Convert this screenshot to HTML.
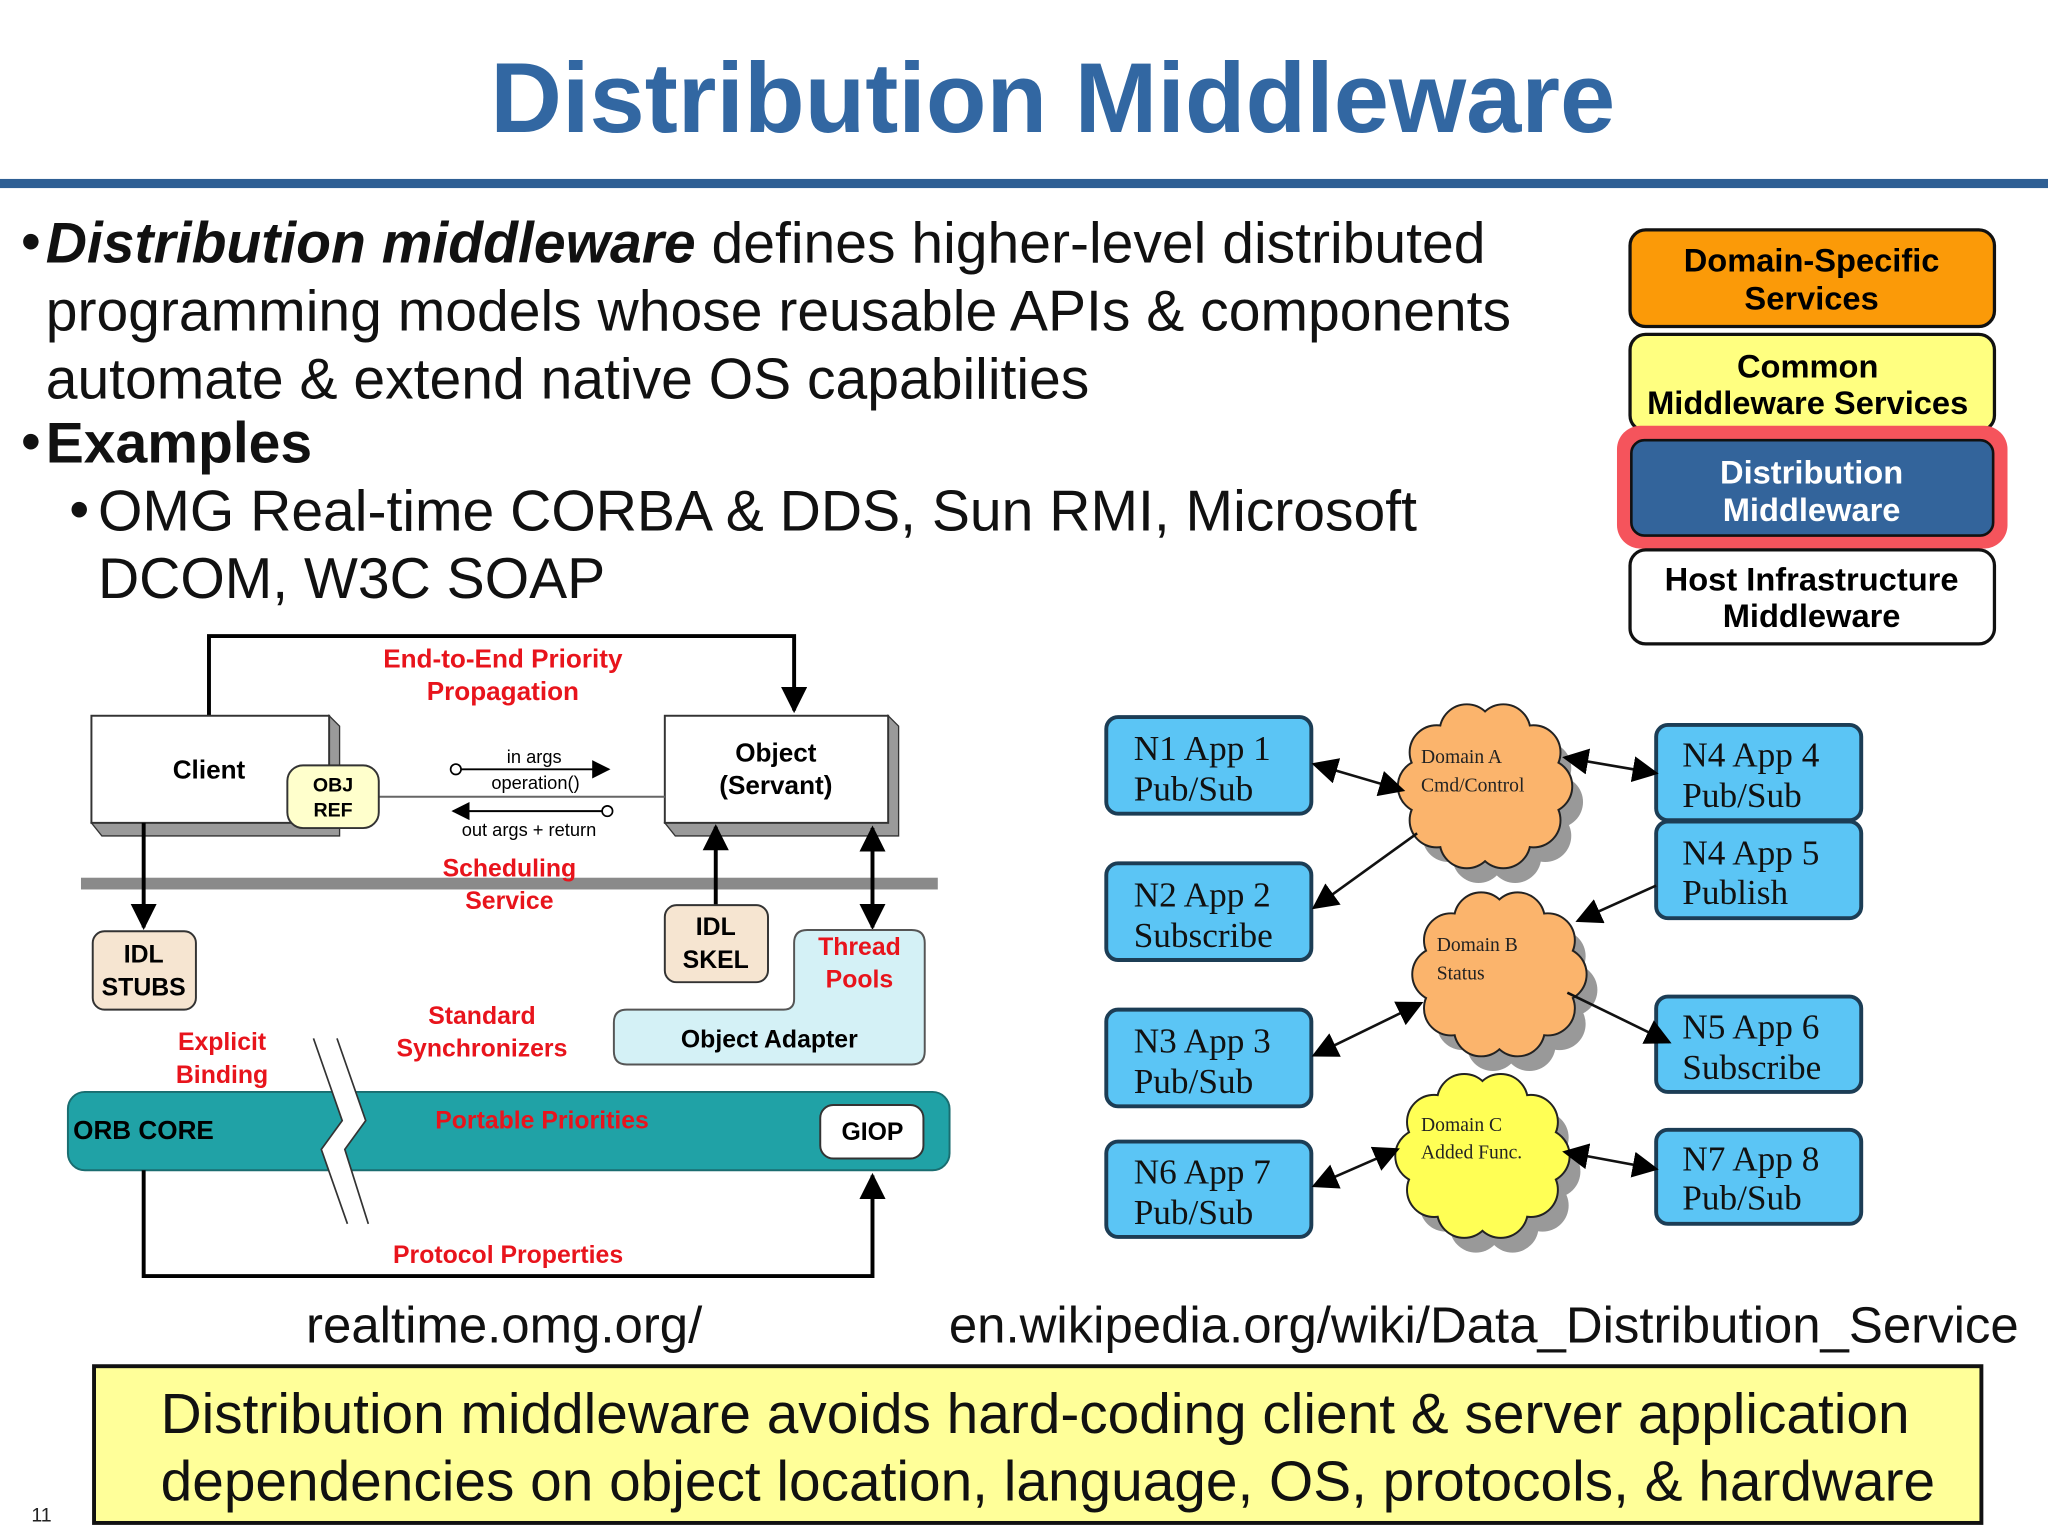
<!DOCTYPE html>
<html><head><meta charset="utf-8"><style>
html,body{margin:0;padding:0;background:#fff;}
svg{display:block;}
.s{font-family:"Liberation Sans",sans-serif;}
.r{font-family:"Liberation Serif",serif;}
</style></head><body>
<svg width="2048" height="1536" viewBox="0 0 1568 1176" xmlns="http://www.w3.org/2000/svg">
<defs>
<marker id="ah" viewBox="0 0 10 10" refX="9" refY="5" markerWidth="14" markerHeight="14" markerUnits="userSpaceOnUse" orient="auto-start-reverse"><path d="M0,0 L10,5 L0,10 z" fill="#000"/></marker>
<marker id="ab" viewBox="0 0 10 10" refX="9" refY="5" markerWidth="20" markerHeight="20" markerUnits="userSpaceOnUse" orient="auto-start-reverse"><path d="M0,0 L10,5 L0,10 z" fill="#000"/></marker>
<g id="cl">
<circle cx="46" cy="0" r="20"/><circle cx="37" cy="26" r="20"/><circle cx="14" cy="42" r="20"/><circle cx="-14" cy="42" r="20"/><circle cx="-37" cy="26" r="20"/><circle cx="-46" cy="0" r="20"/><circle cx="-37" cy="-26" r="20"/><circle cx="-14" cy="-42" r="20"/><circle cx="14" cy="-42" r="20"/><circle cx="37" cy="-26" r="20"/>
</g>
</defs>
<rect width="1568" height="1176" fill="#fff"/>
<text x="806" y="101" text-anchor="middle" class="s" font-size="76" font-weight="bold" fill="#3267a2">Distribution Middleware</text>
<rect x="0" y="137" width="1568" height="7" fill="#2e5f94"/>
<g class="s" font-size="43.7" fill="#111">
<text x="16" y="200">•</text>
<text x="35" y="201"><tspan font-weight="bold" font-style="italic">Distribution middleware</tspan> defines higher-level distributed</text>
<text x="35" y="253">programming models whose reusable APIs &amp; components</text>
<text x="35" y="305">automate &amp; extend native OS capabilities</text>
<text x="16" y="353">•</text>
<text x="35" y="354" font-weight="bold">Examples</text>
<text x="53" y="405">•</text>
<text x="75" y="406">OMG Real-time CORBA &amp; DDS, Sun RMI, Microsoft</text>
<text x="75" y="458">DCOM, W3C SOAP</text>
</g>
<g class="s" font-size="25" font-weight="bold" text-anchor="middle">
<rect x="1248" y="176" width="279" height="74" rx="12" fill="#fb9a08" stroke="#111" stroke-width="2.5"/>
<text x="1387" y="208">Domain-Specific</text><text x="1387" y="237">Services</text>
<rect x="1248" y="256" width="279" height="74" rx="12" fill="#ffff80" stroke="#111" stroke-width="2.5"/>
<text x="1384" y="289">Common</text><text x="1384" y="317">Middleware Services</text>
<rect x="1238" y="326" width="299" height="94" rx="18" fill="#f5545c"/>
<rect x="1249" y="337" width="277" height="73" rx="10" fill="#33649b" stroke="#111" stroke-width="2"/>
<text x="1387" y="370" fill="#fff">Distribution</text><text x="1387" y="399" fill="#fff">Middleware</text>
<rect x="1248" y="421" width="279" height="72" rx="12" fill="#fff" stroke="#111" stroke-width="2.5"/>
<text x="1387" y="452">Host Infrastructure</text><text x="1387" y="480">Middleware</text>
</g>
<polyline points="160,548 160,487 608,487 608,544" fill="none" stroke="#000" stroke-width="3" marker-end="url(#ab)"/>
<g class="s" font-weight="bold" fill="#e8141c" font-size="20" text-anchor="middle">
<text x="385" y="511">End-to-End Priority</text><text x="385" y="536">Propagation</text>
</g>
<polygon points="252,548 260,556 260,640 78,640 70,630 252,630" fill="#9a9a9a" stroke="#333" stroke-width="1"/>
<rect x="70" y="548" width="182" height="82" fill="#fff" stroke="#333" stroke-width="1.5"/>
<text x="160" y="596" class="s" font-size="20" font-weight="bold" text-anchor="middle">Client</text>
<polygon points="680,548 688,556 688,640 517,640 509,630 680,630" fill="#9a9a9a" stroke="#333" stroke-width="1"/>
<rect x="509" y="548" width="171" height="82" fill="#fff" stroke="#333" stroke-width="1.5"/>
<text x="594" y="583" class="s" font-size="20" font-weight="bold" text-anchor="middle">Object</text>
<text x="594" y="608" class="s" font-size="20" font-weight="bold" text-anchor="middle">(Servant)</text>
<line x1="290" y1="610" x2="509" y2="610" stroke="#666" stroke-width="1.5"/>
<rect x="220" y="586" width="70" height="48" rx="12" fill="#ffffcc" stroke="#333" stroke-width="1.5"/>
<text x="255" y="606" class="s" font-size="15" font-weight="bold" text-anchor="middle">OBJ</text>
<text x="255" y="625" class="s" font-size="15" font-weight="bold" text-anchor="middle">REF</text>
<circle cx="349" cy="589" r="4" fill="#fff" stroke="#000" stroke-width="1.3"/>
<line x1="353" y1="589" x2="466" y2="589" stroke="#000" stroke-width="1.5" marker-end="url(#ah)"/>
<circle cx="465" cy="621" r="4" fill="#fff" stroke="#000" stroke-width="1.3"/>
<line x1="461" y1="621" x2="347" y2="621" stroke="#000" stroke-width="1.5" marker-end="url(#ah)"/>
<g class="s" font-size="14" text-anchor="middle">
<text x="409" y="584">in args</text><text x="410" y="604">operation()</text><text x="405" y="640">out args + return</text>
</g>
<rect x="62" y="672" width="656" height="9" fill="#8a8a8a"/>
<g class="s" font-weight="bold" fill="#e8141c" font-size="19" text-anchor="middle">
<text x="390" y="671">Scheduling</text><text x="390" y="696">Service</text>
<text x="170" y="804">Explicit</text><text x="170" y="829">Binding</text>
<text x="369" y="784">Standard</text><text x="369" y="809">Synchronizers</text>
</g>
<line x1="110" y1="630" x2="110" y2="710" stroke="#000" stroke-width="3" marker-end="url(#ab)"/>
<rect x="71" y="713" width="79" height="60" rx="9" fill="#f6e5d1" stroke="#333" stroke-width="1.5"/>
<text x="110" y="737" class="s" font-size="19" font-weight="bold" text-anchor="middle">IDL</text>
<text x="110" y="762" class="s" font-size="19" font-weight="bold" text-anchor="middle">STUBS</text>
<line x1="548" y1="693" x2="548" y2="633" stroke="#000" stroke-width="3" marker-end="url(#ab)"/>
<rect x="509" y="693" width="79" height="59" rx="9" fill="#f6e5d1" stroke="#333" stroke-width="1.5"/>
<text x="548" y="716" class="s" font-size="19" font-weight="bold" text-anchor="middle">IDL</text>
<text x="548" y="741" class="s" font-size="19" font-weight="bold" text-anchor="middle">SKEL</text>
<line x1="668" y1="650" x2="668" y2="634" stroke="#000" stroke-width="3" marker-end="url(#ab)"/>
<line x1="668" y1="640" x2="668" y2="710" stroke="#000" stroke-width="3" marker-end="url(#ab)"/>
<path d="M618,712 H698 Q708,712 708,722 V805 Q708,815 698,815 H480 Q470,815 470,805 V783 Q470,773 480,773 H600 Q608,773 608,765 V722 Q608,712 618,712 Z" fill="#d4f1f6" stroke="#555" stroke-width="1.5"/>
<text x="658" y="731" class="s" font-size="19" font-weight="bold" fill="#e8141c" text-anchor="middle">Thread</text>
<text x="658" y="756" class="s" font-size="19" font-weight="bold" fill="#e8141c" text-anchor="middle">Pools</text>
<text x="589" y="802" class="s" font-size="19" font-weight="bold" text-anchor="middle">Object Adapter</text>
<rect x="52" y="836" width="675" height="60" rx="13" fill="#20a2a6" stroke="#1a6d70" stroke-width="1.5"/>
<text x="56" y="872" class="s" font-size="20" font-weight="bold">ORB CORE</text>
<text x="415" y="864" class="s" font-size="19" font-weight="bold" fill="#e8141c" text-anchor="middle">Portable Priorities</text>
<rect x="628" y="846" width="79" height="41" rx="10" fill="#fff" stroke="#333" stroke-width="1.5"/>
<text x="668" y="873" class="s" font-size="19" font-weight="bold" text-anchor="middle">GIOP</text>
<polygon points="240,795 258,795 280,858 264,880 282,937 266,937 246,880 262,858" fill="#fff"/>
<polyline points="240,795 262,858 246,880 266,937" fill="none" stroke="#333" stroke-width="1.3"/>
<polyline points="258,795 280,858 264,880 282,937" fill="none" stroke="#333" stroke-width="1.3"/>
<polyline points="110,896 110,977 668,977 668,900" fill="none" stroke="#000" stroke-width="3" marker-end="url(#ab)"/>
<text x="389" y="967" class="s" font-size="19" font-weight="bold" fill="#e8141c" text-anchor="middle">Protocol Properties</text>
<g fill="#5bc5f5" stroke="#1c3d55" stroke-width="3">
<rect x="847" y="549" width="157" height="74" rx="9"/>
<rect x="847" y="661" width="157" height="74" rx="9"/>
<rect x="847" y="773" width="157" height="74" rx="9"/>
<rect x="847" y="874" width="157" height="73" rx="9"/>
<rect x="1268" y="555" width="157" height="73" rx="9"/>
<rect x="1268" y="629" width="157" height="74" rx="9"/>
<rect x="1268" y="763" width="157" height="73" rx="9"/>
<rect x="1268" y="865" width="157" height="72" rx="9"/>
</g>
<g class="r" font-size="27" fill="#111">
<text x="868" y="582">N1 App 1</text><text x="868" y="613">Pub/Sub</text>
<text x="868" y="694">N2 App 2</text><text x="868" y="725">Subscribe</text>
<text x="868" y="806">N3 App 3</text><text x="868" y="837">Pub/Sub</text>
<text x="868" y="906">N6 App 7</text><text x="868" y="937">Pub/Sub</text>
<text x="1288" y="587">N4 App 4</text><text x="1288" y="618">Pub/Sub</text>
<text x="1288" y="662">N4 App 5</text><text x="1288" y="692">Publish</text>
<text x="1288" y="795">N5 App 6</text><text x="1288" y="826">Subscribe</text>
<text x="1288" y="896">N7 App 8</text><text x="1288" y="926">Pub/Sub</text>
</g>
<g fill="#999"><use href="#cl" transform="translate(1146,614)"/><use href="#cl" transform="translate(1157,758)"/><use href="#cl" transform="translate(1144,897)"/></g>
<g fill="#fbb46c" stroke="#222" stroke-width="3"><use href="#cl" transform="translate(1137,602)"/><use href="#cl" transform="translate(1148,746)"/></g>
<g fill="#ffff55" stroke="#222" stroke-width="3"><use href="#cl" transform="translate(1135,885)"/></g>
<g fill="#fbb46c"><use href="#cl" transform="translate(1137,602)"/><use href="#cl" transform="translate(1148,746)"/><ellipse cx="1137" cy="602" rx="48" ry="44"/><ellipse cx="1148" cy="746" rx="48" ry="44"/></g>
<g fill="#ffff55"><use href="#cl" transform="translate(1135,885)"/><ellipse cx="1135" cy="885" rx="48" ry="44"/></g>
<g class="r" font-size="15" fill="#222">
<text x="1088" y="584">Domain A</text><text x="1088" y="606">Cmd/Control</text>
<text x="1100" y="728">Domain B</text><text x="1100" y="750">Status</text>
<text x="1088" y="866">Domain C</text><text x="1088" y="887">Added Func.</text>
</g>
<g stroke="#111" stroke-width="2" fill="none">
<line x1="1006" y1="585" x2="1074" y2="605" marker-start="url(#ab)" marker-end="url(#ab)"/>
<line x1="1085" y1="638" x2="1006" y2="695" marker-end="url(#ab)"/>
<line x1="1198" y1="580" x2="1268" y2="592" marker-start="url(#ab)" marker-end="url(#ab)"/>
<line x1="1268" y1="678" x2="1208" y2="705" marker-end="url(#ab)"/>
<line x1="1006" y1="808" x2="1088" y2="768" marker-start="url(#ab)" marker-end="url(#ab)"/>
<line x1="1200" y1="760" x2="1278" y2="798" marker-end="url(#ab)"/>
<line x1="1006" y1="908" x2="1070" y2="880" marker-start="url(#ab)" marker-end="url(#ab)"/>
<line x1="1198" y1="882" x2="1268" y2="895" marker-start="url(#ab)" marker-end="url(#ab)"/>
</g>
<text x="386" y="1028" class="s" font-size="39" text-anchor="middle" fill="#111">realtime.omg.org/</text>
<text x="1136" y="1028" class="s" font-size="39" text-anchor="middle" fill="#111">en.wikipedia.org/wiki/Data_Distribution_Service</text>
<rect x="72" y="1046" width="1445" height="120" fill="#ffff99" stroke="#111" stroke-width="3"/>
<g class="s" font-size="43.5" fill="#111">
<text x="123" y="1097">Distribution middleware avoids hard-coding client &amp; server application</text>
<text x="123" y="1149">dependencies on object location, language, OS, protocols, &amp; hardware</text>
</g>
<text x="24" y="1165" class="s" font-size="15" fill="#222">11</text>
</svg>
</body></html>
